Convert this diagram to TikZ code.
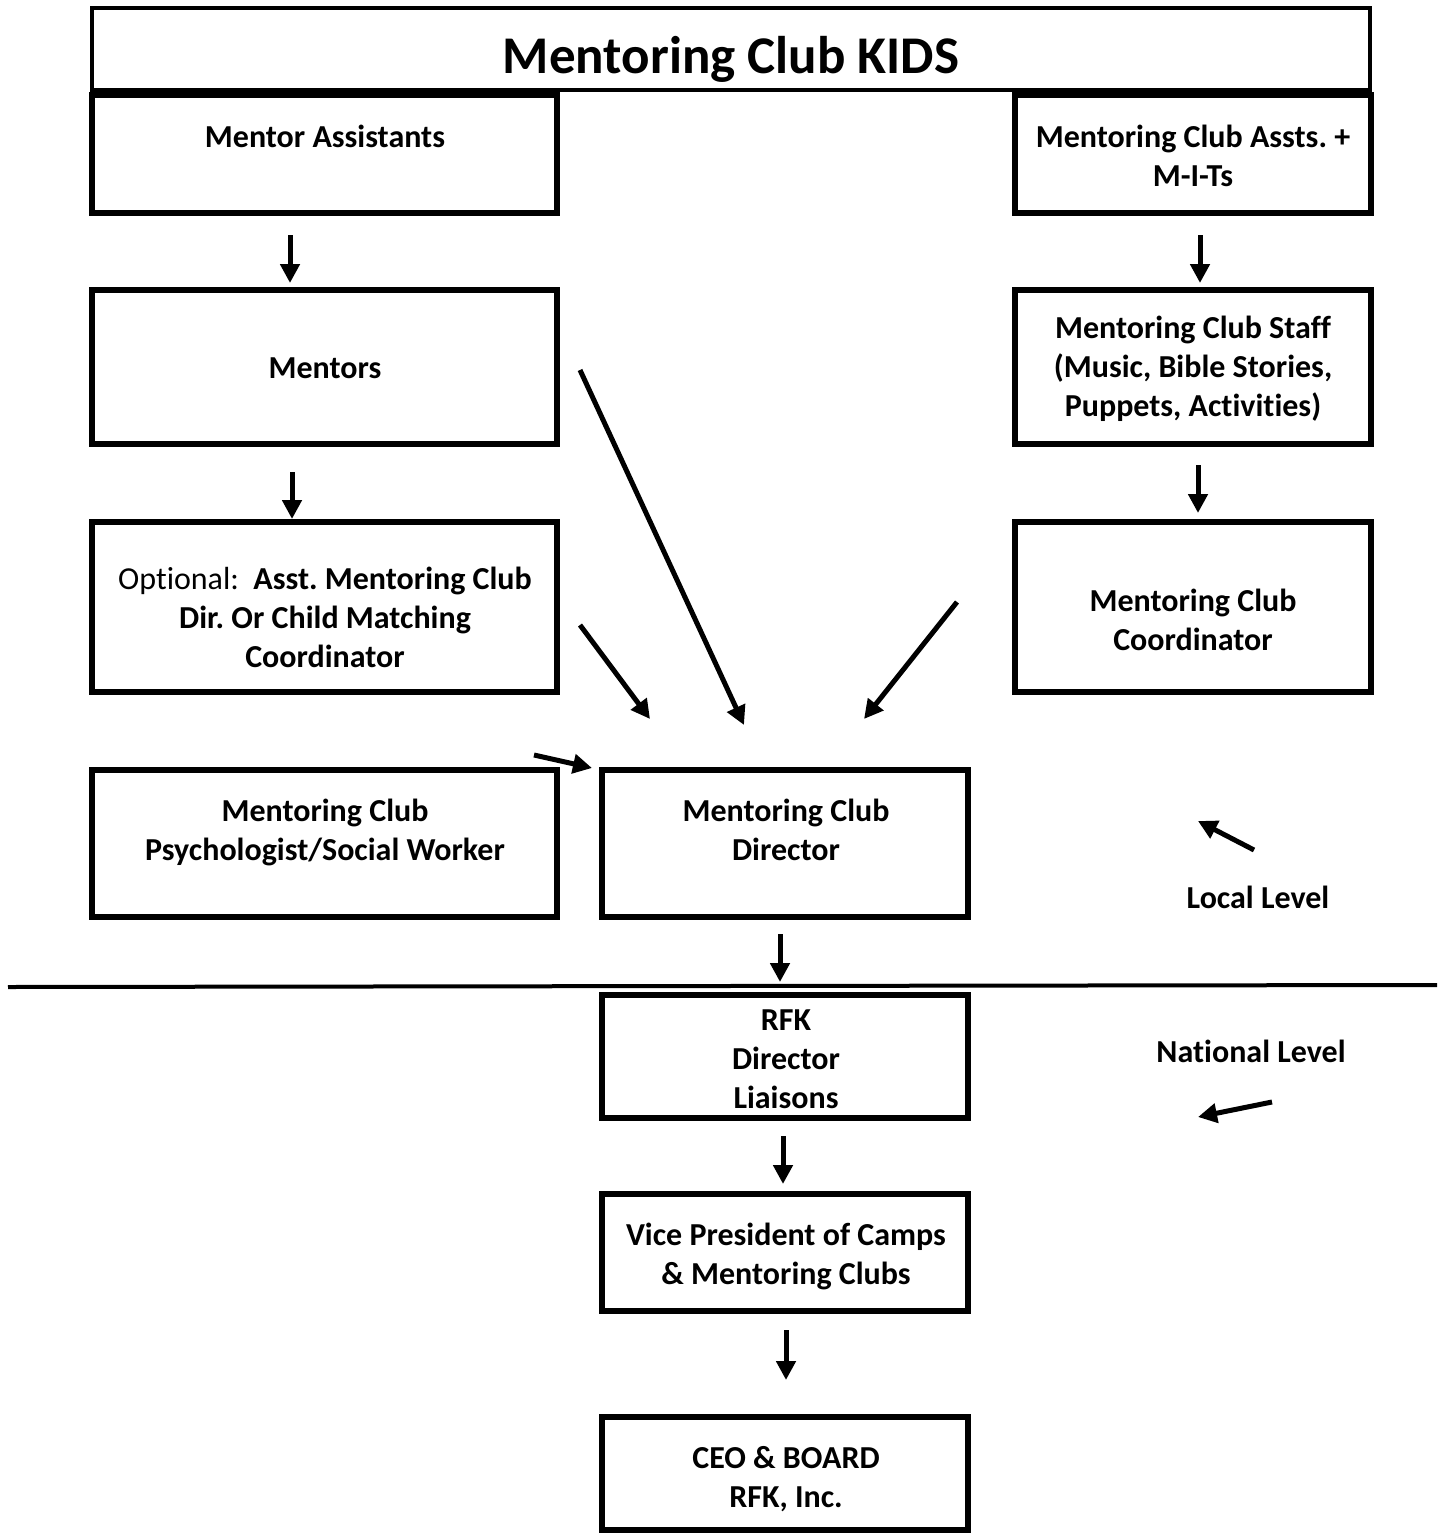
\documentclass[tikz,border=0pt]{standalone}
\usepackage{fontspec}
\setmainfont{Carlito}[Ligatures=NoCommon]
\usetikzlibrary{arrows.meta}
\frenchspacing
\begin{document}
\begin{tikzpicture}[x=1pt,y=-1pt,
  box/.style={draw=black,line width=5.5pt,inner sep=0pt,outer sep=0pt},
  txt/.style={align=center,inner sep=0pt,font=\bfseries\fontsize{32}{39}\selectfont},
  arr/.style={line width=5pt,-{Triangle[length=19pt,width=19pt]}}]
\useasboundingbox[fill=white] (0,0) rectangle (1445,1533);
% boxes
\draw[line width=4pt] (92,8) rectangle (1370,90);
\node[txt,font=\bfseries\fontsize{53}{58}\selectfont] (title) at (731,59) {Mentoring Club KIDS};
\draw[box] (92,95) rectangle (557,213);
\draw[box] (1015,95) rectangle (1371,213);
\draw[box] (92,290) rectangle (557,444);
\draw[box] (1015,290) rectangle (1371,444);
\draw[box] (92,522) rectangle (557,692);
\draw[box] (1015,522) rectangle (1371,692);
\draw[box] (92,770) rectangle (557,917);
\draw[box] (602,770) rectangle (968,917);
\draw[box] (602,995) rectangle (968,1118);
\draw[box] (602,1194) rectangle (968,1311);
\draw[box] (602,1417) rectangle (968,1530);
% texts
\node[txt] (ma) at (325,136) {Mentor Assistants};
\node[txt] (mca) at (1193,156) {Mentoring Club Assts. +\\M-I-Ts};
\node[txt] (men) at (325,368) {Mentors};
\node[txt] (staff) at (1193,369) {Mentoring Club Staff\\(Music, Bible Stories,\\Puppets, Activities)};
\node[txt] (opt) at (325,617) {\mdseries Optional:\ \ \bfseries Asst. Mentoring Club\\Dir. Or Child Matching\\Coordinator};
\node[txt] (coord) at (1193,620) {Mentoring Club\\Coordinator};
\node[txt] (psy) at (325,832) {Mentoring Club\\Psychologist/Social Worker};
\node[txt] (dir) at (786,830) {Mentoring Club\\Director};
\node[txt] (local) at (1258,897) {Local Level};
\node[txt] (rfk) at (786,1059) {RFK\\Director\\Liaisons};
\node[txt] (nat) at (1251,1051) {National Level};
\node[txt] (vp) at (786,1256) {Vice President of Camps\\\& Mentoring Clubs};
\node[txt] (ceo) at (786,1479) {CEO \& BOARD\\RFK, Inc.};
% divider
\coordinate (hl1) at (8,987);
\coordinate (hl2) at (1437,985);
\draw[line width=4pt] (hl1) -- (hl2);
% arrow coordinates
\coordinate (a1s) at (290,235); \coordinate (a1e) at (290,283);
\coordinate (a2s) at (1200,235); \coordinate (a2e) at (1200,283);
\coordinate (a3s) at (292,472); \coordinate (a3e) at (292,519);
\coordinate (a4s) at (1198,465); \coordinate (a4e) at (1198,513);
\coordinate (a5s) at (580,625); \coordinate (a5e) at (650,719);
\coordinate (a6s) at (580,370); \coordinate (a6e) at (744,725);
\coordinate (a7s) at (957,602); \coordinate (a7e) at (864,719);
\coordinate (a8s) at (534,755); \coordinate (a8e) at (592,768);
\coordinate (a9s) at (1254,850); \coordinate (a9e) at (1198,821);
\coordinate (a10s) at (1272,1102); \coordinate (a10e) at (1198,1117);
\coordinate (a11s) at (780,934); \coordinate (a11e) at (780,982);
\coordinate (a12s) at (783,1136); \coordinate (a12e) at (783,1184);
\coordinate (a13s) at (786,1330); \coordinate (a13e) at (786,1380);
\foreach \i in {1,...,13} \draw[arr] (a\i s) -- (a\i e);
\end{tikzpicture}
\end{document}
